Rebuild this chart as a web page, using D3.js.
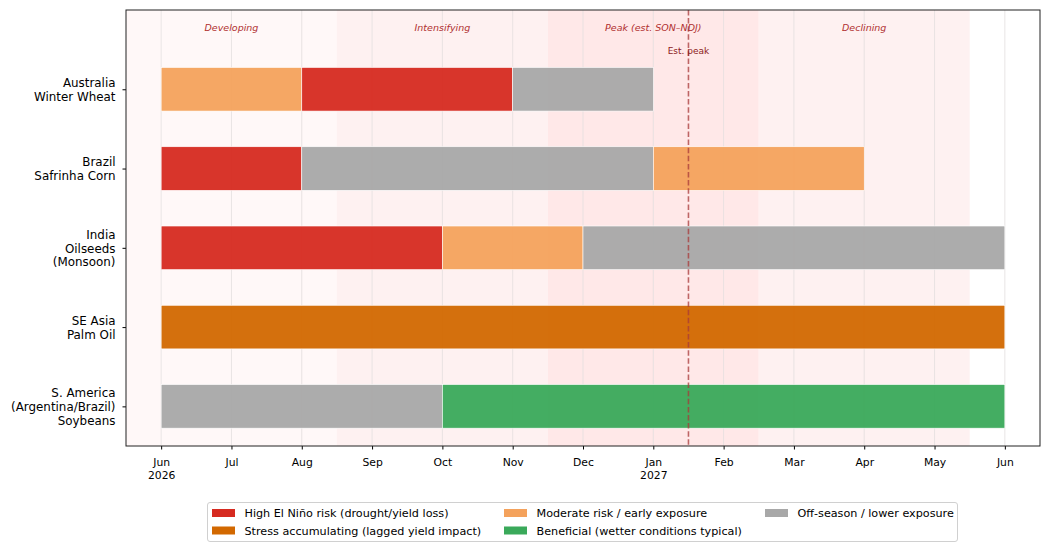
<!DOCTYPE html>
<html>
<head>
<meta charset="utf-8">
<script src="https://cdn.jsdelivr.net/npm/d3@7"></script>
<style>
  body { margin: 0; background: #fff; }
  svg, svg text { font-family: "DejaVu Sans", sans-serif; }
</style>
</head>
<body>
<svg id="chart" width="1054" height="554"></svg>
<script>
'use strict';

// months are indexed from Jun 2026 (0) to Jun 2027 (12)
var monthLabels = ['Jun\n2026', 'Jul', 'Aug', 'Sep', 'Oct', 'Nov', 'Dec', 'Jan\n2027', 'Feb', 'Mar', 'Apr', 'May', 'Jun'];

var regions = [
	'Australia\nWinter Wheat',
	'Brazil\nSafrinha Corn',
	'India\nOilseeds\n(Monsoon)',
	'SE Asia\nPalm Oil',
	'S. America\n(Argentina/Brazil)\nSoybeans'
];

var phaseNames = ['Developing', 'Intensifying', 'Peak (est. SON\u2013NDJ)', 'Declining'];
var phaseStart = [-1, 2.5, 5.5, 8.5];
var phaseEnd = [2.5, 5.5, 8.5, 11.5];
var phaseLabelAt = [1, 4, 7, 10];
var peakMonth = 7.5;

var categories = ['high', 'stress', 'moderate', 'beneficial', 'off'];
var categoryLabels = [
	'High El Ni\u00f1o risk (drought/yield loss)',
	'Stress accumulating (lagged yield impact)',
	'Moderate risk / early exposure',
	'Beneficial (wetter conditions typical)',
	'Off-season / lower exposure'
];

// segments: [region index, start month, end month, category]
var segRegion = [0, 0, 0, 1, 1, 1, 2, 2, 2, 3, 4, 4];
var segStart = [0, 2, 5, 0, 2, 7, 0, 4, 6, 0, 0, 4];
var segEnd = [2, 5, 7, 2, 7, 10, 4, 6, 12, 12, 4, 12];
var segCat = ['moderate', 'high', 'off', 'high', 'off', 'moderate', 'high', 'moderate', 'off', 'stress', 'off', 'beneficial'];

var COLORS = {
	high: '#d62a20',
	stress: '#d26800',
	moderate: '#f4a25c',
	beneficial: '#3aa95a',
	off: '#a8a8a8'
};
var PHASE_COLORS = ['#fff8f8', '#fef1f1', '#ffe8e8', '#fef1f1'];
var FONT = 'DejaVu Sans';

var svg = d3.select('#chart'),
	margin = {top: 10, right: 14, bottom: 108, left: 126},
	width = +svg.attr('width') - margin.left - margin.right,
	height = +svg.attr('height') - margin.top - margin.bottom,
	g = svg.append('g').attr('transform', 'translate(' + margin.left + ',' + margin.top + ')');

var x = d3.scaleLinear().domain([-0.5, 12.5]).range([0, width]);
var y = d3.scaleLinear().domain([-1, 4.5]).range([0, height]);
var barH = y(0.55) - y(0);

g.append('defs').append('clipPath').attr('id', 'clip')
	.append('rect').attr('width', width).attr('height', height);

var plot = g.append('g').attr('clip-path', 'url(#clip)');

// phase bands
plot.selectAll('rect.phase')
	.data(phaseNames)
	.enter().append('rect')
		.attr('class', 'phase')
		.attr('x', function(d, i) { return x(phaseStart[i]); })
		.attr('width', function(d, i) { return x(phaseEnd[i]) - x(phaseStart[i]); })
		.attr('y', 0)
		.attr('height', height)
		.style('fill', function(d, i) { return PHASE_COLORS[i]; });

// vertical grid
plot.selectAll('line.grid')
	.data(d3.range(monthLabels.length))
	.enter().append('line')
		.attr('x1', function(d) { return x(d); })
		.attr('x2', function(d) { return x(d); })
		.attr('y1', 0)
		.attr('y2', height)
		.style('stroke', '#e3dede')
		.style('stroke-width', 0.8);

// phase labels
plot.selectAll('text.phase')
	.data(phaseNames)
	.enter().append('text')
		.attr('x', function(d, i) { return x(phaseLabelAt[i]); })
		.attr('y', 20.5)
		.style('text-anchor', 'middle')
		.style('font-family', FONT)
		.style('font-style', 'italic')
		.style('font-size', '9.5px')
		.style('fill', '#b03030')
		.text(function(d) { return d; });

// bars
plot.selectAll('rect.seg')
	.data(segCat)
	.enter().append('rect')
		.attr('class', 'seg')
		.attr('x', function(d, i) { return x(segStart[i]); })
		.attr('width', function(d, i) { return x(segEnd[i]) - x(segStart[i]); })
		.attr('y', function(d, i) { return y(segRegion[i]) - barH / 2; })
		.attr('height', barH)
		.style('fill', function(d) { return COLORS[d]; })
		.style('fill-opacity', 0.95)
		.style('stroke', '#fff')
		.style('stroke-width', 0.6);

// peak marker
plot.append('line')
	.attr('x1', x(peakMonth))
	.attr('x2', x(peakMonth))
	.attr('y1', 0)
	.attr('y2', height)
	.style('stroke', '#a83a3a')
	.style('stroke-opacity', 0.75)
	.style('stroke-width', 1.6)
	.style('stroke-dasharray', '5.5,2.6');

plot.append('text')
	.attr('x', x(peakMonth))
	.attr('y', 43.5)
	.style('text-anchor', 'middle')
	.style('font-family', FONT)
	.style('font-size', '9px')
	.style('fill', '#8b1a1a')
	.text('Est. peak');

// axes
var xAxis = g.append('g')
	.attr('transform', 'translate(0,' + height + ')')
	.attr('font-family', FONT)
	.call(d3.axisBottom(x).tickValues(d3.range(monthLabels.length)).tickSize(3.5).tickFormat(''));
xAxis.select('.domain').remove();
xAxis.selectAll('.tick line').style('stroke', '#000');
xAxis.selectAll('.tick').each(function(d) {
	var t = d3.select(this).append('text')
		.style('text-anchor', 'middle')
		.style('fill', '#000')
		.style('font-family', FONT)
		.style('font-size', '10.8px');
	monthLabels[d].split('\n').forEach(function(s, k) {
		t.append('tspan').attr('x', 0).attr('y', 20 + k * 12.8).text(s);
	});
});

var yAxis = g.append('g')
	.attr('font-family', FONT)
	.call(d3.axisLeft(y).tickValues(d3.range(regions.length)).tickSize(3.5).tickFormat(''));
yAxis.select('.domain').remove();
yAxis.selectAll('.tick line').style('stroke', '#000');
yAxis.selectAll('.tick').each(function(d) {
	var lines = regions[d].split('\n');
	var t = d3.select(this).append('text')
		.style('text-anchor', 'end')
		.style('fill', '#000')
		.style('font-family', FONT)
		.style('font-size', '11.9px');
	lines.forEach(function(s, k) {
		t.append('tspan')
			.attr('x', -10.5)
			.attr('y', (k - (lines.length - 1) / 2) * 13.8 + 4.2)
			.text(s);
	});
});

g.append('rect')
	.attr('width', width)
	.attr('height', height)
	.style('fill', 'none')
	.style('stroke', '#222')
	.style('stroke-width', 1);

// legend (3 columns, filled column-wise)
var colX = [212, 504, 765];
var legend = svg.append('g');
legend.append('rect')
	.attr('x', 207.5)
	.attr('y', 502.5)
	.attr('width', 750)
	.attr('height', 39)
	.attr('rx', 2.5)
	.style('fill', '#fff')
	.style('stroke', '#d0d0d0');

var items = legend.selectAll('g.item')
	.data(categories)
	.enter().append('g')
		.attr('class', 'item')
		.attr('transform', function(d, i) {
			var col = Math.floor(i / 2), row = i % 2;
			return 'translate(' + colX[col] + ',' + (509 + row * 17.5) + ')';
		});
items.append('rect')
	.attr('width', 23)
	.attr('height', 8)
	.style('fill', function(d) { return COLORS[d]; });
items.append('text')
	.attr('x', 32.5)
	.attr('y', 8.2)
	.style('font-family', FONT)
	.style('font-size', '11.2px')
	.text(function(d, i) { return categoryLabels[i]; });
</script>
</body>
</html>
